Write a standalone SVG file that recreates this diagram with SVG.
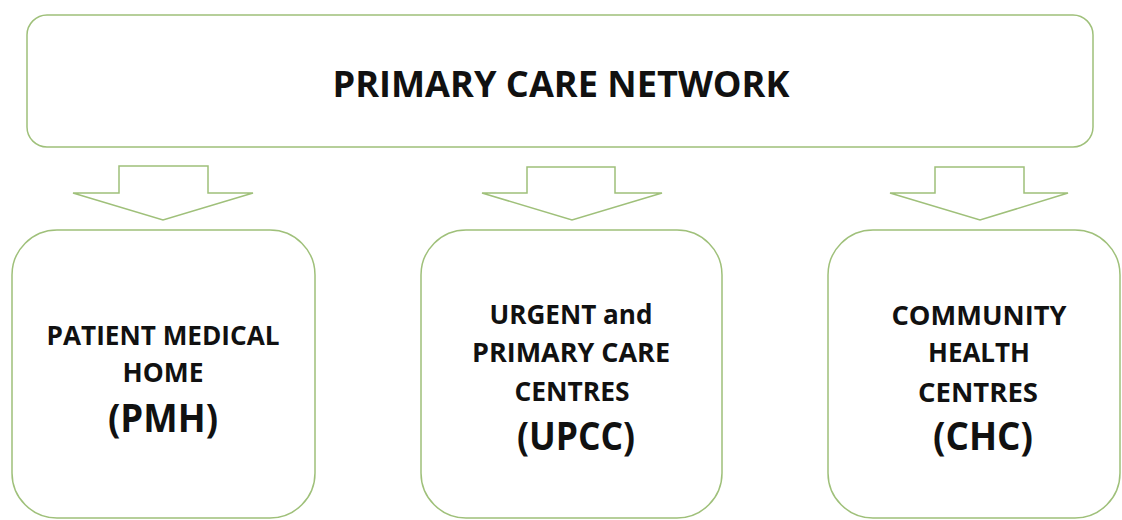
<svg xmlns="http://www.w3.org/2000/svg" width="1122" height="520" viewBox="0 0 1122 520">
<style>
.box{fill:#ffffff;stroke:#9fc07a;stroke-width:1.5}
.arr{fill:#ffffff;stroke:#9fc07a;stroke-width:1.5;stroke-linejoin:miter}
text{font-family:"Open Sans","Liberation Sans",sans-serif;font-weight:bold;fill:#111111;text-anchor:middle}
.t{font-size:35px}
.s{font-size:26.5px}
.b{font-size:40px}
</style>
<rect width="1122" height="520" fill="#ffffff"/>
<g id="connectors">
<polygon class="arr" points="119,166 208,166 208,193 253,193 163,220 73,193 119,193"/>
<polygon class="arr" points="527,167 615,167 615,193 662,193 572,220 482,193 527,193"/>
<polygon class="arr" points="935,167 1024,167 1024,193 1068,193 980,220 890,193 935,193"/>
</g>
<g id="node-pcn">
<rect class="box" x="27" y="15" width="1066" height="132" rx="20" ry="20"/>
<text class="t" x="561" y="97" textLength="457" lengthAdjust="spacingAndGlyphs">PRIMARY CARE NETWORK</text>
</g>
<g id="node-pmh">
<rect class="box" x="12" y="230" width="303" height="288" rx="45" ry="45"/>
<text class="s" x="163" y="345" textLength="233" lengthAdjust="spacingAndGlyphs">PATIENT MEDICAL</text>
<text class="s" x="163" y="382" textLength="81" lengthAdjust="spacingAndGlyphs">HOME</text>
<text class="b" x="163" y="432" textLength="110" lengthAdjust="spacingAndGlyphs">(PMH)</text>
</g>
<g id="node-upcc">
<rect class="box" x="421" y="230" width="301" height="288" rx="45" ry="45"/>
<text class="s" x="571" y="324" textLength="163" lengthAdjust="spacingAndGlyphs">URGENT and</text>
<text class="s" x="571" y="362" textLength="198" lengthAdjust="spacingAndGlyphs">PRIMARY CARE</text>
<text class="s" x="572" y="401" textLength="115" lengthAdjust="spacingAndGlyphs">CENTRES</text>
<text class="b" x="576" y="450" textLength="118" lengthAdjust="spacingAndGlyphs">(UPCC)</text>
</g>
<g id="node-chc">
<rect class="box" x="828" y="230" width="292" height="288" rx="45" ry="45"/>
<text class="s" x="979" y="325" textLength="175" lengthAdjust="spacingAndGlyphs">COMMUNITY</text>
<text class="s" x="979" y="362" textLength="102" lengthAdjust="spacingAndGlyphs">HEALTH</text>
<text class="s" x="978" y="402" textLength="120" lengthAdjust="spacingAndGlyphs">CENTRES</text>
<text class="b" x="983" y="450" textLength="100" lengthAdjust="spacingAndGlyphs">(CHC)</text>
</g>
</svg>
